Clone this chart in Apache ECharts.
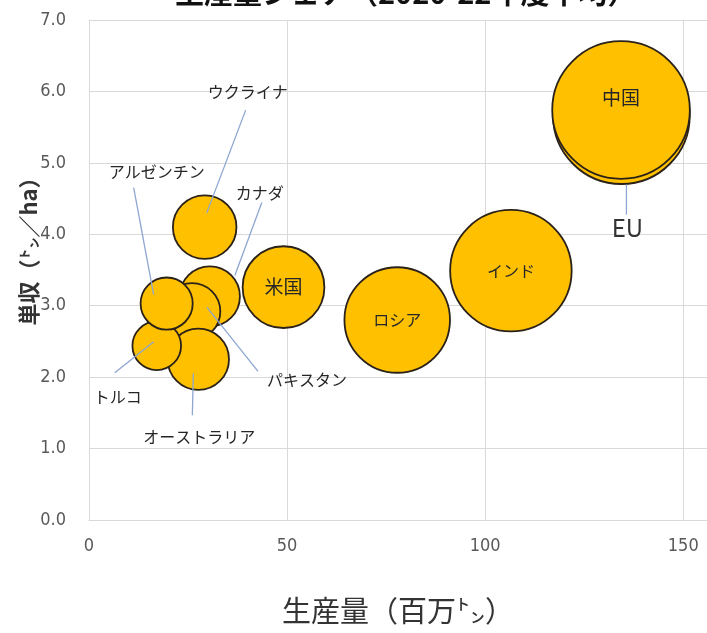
<!DOCTYPE html>
<html>
<head>
<meta charset="utf-8">
<script src="https://cdn.jsdelivr.net/npm/echarts@6/dist/echarts.min.js"></script>
<style>html,body{margin:0;padding:0;background:#fff;}#c{width:707px;height:633px;}</style>
</head>
<body>
<div id="c"></div>
<script>
// ---- data ----
const names      = ['EU', '中国', 'インド', 'ロシア', '米国', 'ウクライナ', 'カナダ', 'パキスタン', 'オーストラリア', 'トルコ', 'アルゼンチン'];
const production = [134.4, 134.3, 106.5, 77.8, 49.1, 29.2, 30.5, 26.0, 27.6, 17.1, 19.6];   // 百万㌧
const yieldHa    = [5.66, 5.74, 3.49, 2.80, 3.26, 4.10, 3.13, 2.92, 2.25, 2.44, 3.03];       // ㌧/ha
const bubbleSize = [134, 136, 106, 80, 48, 29, 26, 23, 27, 17, 19.5];
const xTicks = [0, 50, 100, 150];
const yTicks = [0, 1, 2, 3, 4, 5, 6, 7];

// label placement (style): [labelDx, labelDy, lineStartDx, lineStartDy (from label), lineEndDx, lineEndDy (from bubble)]
const labelPlace = {
  'EU':          [6, 112, -1, -13, 5, 69],
  'ウクライナ':    [43, -135, -2, 18, 2, -14],
  'アルゼンチン':  [-10, -132, -23, 16, -13, -9],
  'カナダ':       [50, -104, 2, 10, 25, -21],
  'パキスタン':    [115, 68, -49, -8, 15, -4],
  'トルコ':       [-39, 51, -3, -24, -3, -4],
  'オーストラリア': [1, 78, -7, -22, -5, 14],
  '中国':         [0, -12]
};

const FONT = '"Noto Sans CJK JP", "Noto Sans", sans-serif';
const NUMFONT = '"Liberation Sans Narrow", "DejaVu Sans Condensed", "Liberation Sans", sans-serif';
const K = 11.8; // diameter per sqrt(size)

const points = names.map((n, i) => ({ name: n, value: [production[i], yieldHa[i], bubbleSize[i]] }));
const labelPoints = names.map((n, i) => [production[i], yieldHa[i]]);

function labelFontSize(n) {
  if (n === 'EU') return 24;
  if (n === '中国' || n === '米国') return 19;
  return 16;
}

const chart = echarts.init(document.getElementById('c'));
chart.setOption({
  animation: false,
  backgroundColor: '#fff',
  title: {
    text: '生産量シェア（2020-22年度平均）',
    left: 170,
    top: -27,
    textStyle: { fontFamily: FONT, fontSize: 29, fontWeight: 'bold', color: '#111' }
  },
  grid: { left: 89, right: 0, top: 20, bottom: 113, containLabel: false },
  xAxis: {
    type: 'value',
    min: xTicks[0], max: 156, interval: xTicks[1] - xTicks[0],
    name: '生産量（百万㌧）',
    nameLocation: 'middle',
    nameGap: 76,
    nameMoveOverlap: false,
    nameTextStyle: { fontFamily: FONT, fontSize: 29, color: '#333' },
    axisLine: { show: true, lineStyle: { color: '#d9d9d9' } },
    axisTick: { show: false },
    axisLabel: { fontFamily: NUMFONT, fontSize: 18, color: '#595959', margin: 17, showMaxLabel: false,
      formatter: v => xTicks.includes(v) ? String(v) : '' },
    splitLine: { show: true, lineStyle: { color: '#d9d9d9' } }
  },
  yAxis: {
    type: 'value',
    min: yTicks[0], max: yTicks[yTicks.length - 1], interval: 1,
    name: '単収（㌧／ha）',
    nameLocation: 'middle',
    nameGap: 49,
    nameMoveOverlap: false,
    nameRotate: 90,
    nameTextStyle: { fontFamily: FONT, fontSize: 22, color: '#333', fontWeight: 'bold', padding: [0, 0, 0, 48] },
    axisLine: { show: true, lineStyle: { color: '#d9d9d9' } },
    axisTick: { show: false },
    axisLabel: { fontFamily: NUMFONT, fontSize: 18, color: '#595959', margin: 23, formatter: v => v.toFixed(1) },
    splitLine: { show: true, lineStyle: { color: '#d9d9d9' } }
  },
  series: [{
    type: 'scatter',
    data: points,
    z: 2,
    symbolSize: v => K * Math.sqrt(v[2]),
    itemStyle: { color: '#FFC000', borderColor: '#2a2118', borderWidth: 1.8, opacity: 1 },
    label: { show: false },
    emphasis: { disabled: true }
  }, {
    type: 'custom',
    data: labelPoints,
    z: 5,
    silent: true,
    encode: { x: 0, y: 1 },
    renderItem: function (params, api) {
      const n = names[params.dataIndex];
      const c = api.coord([api.value(0), api.value(1)]);
      const p = labelPlace[n] || [0, 0];
      const lx = c[0] + p[0], ly = c[1] + p[1];
      const children = [];
      if (p.length === 6) {
        children.push({
          type: 'line',
          shape: { x1: lx + p[2], y1: ly + p[3], x2: c[0] + p[4], y2: c[1] + p[5] },
          style: { stroke: '#8ea6d2', lineWidth: 1.3 }
        });
      }
      children.push({
        type: 'text',
        x: lx, y: ly,
        style: {
          text: n,
          fontFamily: FONT,
          fontSize: labelFontSize(n),
          fill: n === 'EU' ? '#333' : '#262626',
          align: 'center',
          verticalAlign: 'middle'
        }
      });
      return { type: 'group', children: children };
    }
  }]
});
</script>
</body>
</html>
